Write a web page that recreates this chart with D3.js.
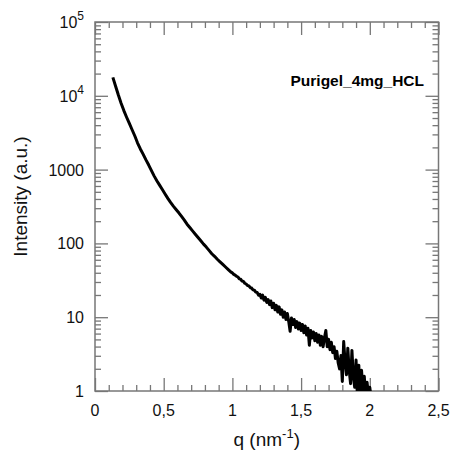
<!DOCTYPE html>
<html><head><meta charset="utf-8">
<script src="https://cdn.jsdelivr.net/npm/d3@7"></script>
<style>body{margin:0;background:#fff}svg{display:block}</style>
</head><body>
<script>
// q values (nm^-1) and log10 intensity
const qSmooth = [0.13,0.15,0.17,0.19,0.21,0.23,0.25,0.27,0.29,0.31,0.33,0.35,0.37,0.39,0.41,0.43,0.45,0.47,0.49,0.51,0.53,0.55,0.57,0.59,0.61,0.63,0.65,0.67,0.69,0.71,0.73,0.75,0.77,0.79,0.81,0.83,0.85,0.87,0.89,0.91,0.93,0.95,0.97,0.99];
const logSmooth = [4.25,4.13,4.01,3.90,3.80,3.71,3.625,3.54,3.455,3.36,3.28,3.21,3.135,3.065,2.99,2.915,2.85,2.79,2.73,2.67,2.61,2.555,2.505,2.46,2.415,2.365,2.315,2.26,2.215,2.17,2.125,2.08,2.035,1.99,1.95,1.905,1.86,1.825,1.785,1.75,1.715,1.68,1.645,1.61];
const qNoisy = [1.00,1.01,1.02,1.03,1.04,1.05,1.06,1.07,1.08,1.09,1.10,1.11,1.12,1.13,1.14,1.15,1.16,1.17,1.18,1.19,1.20,1.21,1.22,1.23,1.24,1.25,1.26,1.27,1.28,1.29,1.30,1.31,1.32,1.33,1.34,1.35,1.36,1.37,1.38,1.39,1.40,1.41,1.42,1.43,1.44,1.45,1.46,1.47,1.48,1.49,1.50,1.51,1.52,1.53,1.54,1.55,1.56,1.57,1.58,1.59,1.60,1.61,1.62,1.63,1.64,1.65,1.66,1.67,1.68,1.69,1.70,1.71,1.72,1.73,1.74,1.75,1.76,1.77,1.78,1.79,1.80,1.81,1.82,1.83,1.84,1.85,1.86,1.87,1.88,1.89,1.90,1.91,1.92,1.93,1.94,1.95,1.96,1.97,1.98,1.99,2.00,2.01];
const logNoisy = [1.60,1.58,1.57,1.555,1.545,1.52,1.515,1.49,1.485,1.46,1.45,1.43,1.425,1.40,1.395,1.37,1.365,1.34,1.335,1.30,
  1.31,1.26,1.30,1.23,1.27,1.20,1.24,1.17,1.22,1.13,1.19,1.10,1.16,1.07,1.14,1.04,1.10,1.00,1.07,0.97,1.05,0.94,0.81,0.99,0.90,0.97,0.86,0.94,0.84,0.92,0.82,0.90,0.79,0.88,0.76,0.85,0.62,0.82,0.72,0.80,0.68,0.78,0.66,0.76,0.62,0.74,0.60,0.72,0.82,0.60,0.70,0.56,0.66,0.52,0.60,0.44,0.54,0.38,
  0.30,0.48,0.13,0.67,0.40,0.22,0.58,0.28,0.10,0.55,0.20,0.05,0.42,-0.1,0.35,-0.1,0.28,0.0,0.20,-0.1,0.12,-0.05,0.05,-0.1];
const xTickValues = [0,0.5,1,1.5,2,2.5];
const xTickLabels = ["0","0,5","1","1,5","2","2,5"];
const yDecades = [1,10,100,1000,10000,100000];
const yTickLabels = ["1","10","100","1000","10^4","10^5"];
const xLabel = "q (nm";
const yLabel = "Intensity (a.u.)";
const sampleName = "Purigel_4mg_HCL";

const W = 452, H = 454;
const M = {left:95, right:438.5, top:22, bottom:391};
const frameColor = "#777";
const svg = d3.select("body").append("svg").attr("width",W).attr("height",H);

const x = d3.scaleLinear().domain([0,2.5]).range([M.left,M.right]);
const y = d3.scaleLog().domain([1,1e5]).range([M.bottom,M.top]);

const data = qSmooth.map((q,i)=>({q, v: Math.pow(10, logSmooth[i])}))
  .concat(qNoisy.map((q,i)=>({q, v: Math.pow(10, logNoisy[i])})));

svg.append("clipPath").attr("id","clip").append("rect")
  .attr("x",M.left).attr("y",M.top).attr("width",M.right-M.left).attr("height",M.bottom-M.top);

const xMinor = d3.range(0,2.5001,0.1).map(v=>+v.toFixed(2)).filter(v=>!xTickValues.some(t=>Math.abs(t-v)<1e-6));
const yMinor = [];
yDecades.slice(0,-1).forEach(d=>{for(let k=2;k<=9;k++) yMinor.push(d*k);});

const font = "'Liberation Sans', Arial, sans-serif";
function axisStyle(g){ g.select(".domain").remove(); g.selectAll("line").attr("stroke",frameColor).attr("stroke-width",1.3); g.selectAll("text").remove(); }

svg.append("g").attr("transform",`translate(0,${M.bottom})`).call(d3.axisBottom(x).tickValues(xTickValues).tickSizeInner(-13).tickSizeOuter(0)).call(axisStyle);
svg.append("g").attr("transform",`translate(0,${M.bottom})`).call(d3.axisBottom(x).tickValues(xMinor).tickSizeInner(-6).tickSizeOuter(0)).call(axisStyle);
svg.append("g").attr("transform",`translate(0,${M.top})`).call(d3.axisTop(x).tickValues(xTickValues).tickSizeInner(-13).tickSizeOuter(0)).call(axisStyle);
svg.append("g").attr("transform",`translate(0,${M.top})`).call(d3.axisTop(x).tickValues(xMinor).tickSizeInner(-6).tickSizeOuter(0)).call(axisStyle);
svg.append("g").attr("transform",`translate(${M.left},0)`).call(d3.axisLeft(y).tickValues(yDecades).tickSizeInner(-13).tickSizeOuter(0)).call(axisStyle);
svg.append("g").attr("transform",`translate(${M.left},0)`).call(d3.axisLeft(y).tickValues(yMinor).tickSizeInner(-6).tickSizeOuter(0)).call(axisStyle);
svg.append("g").attr("transform",`translate(${M.right},0)`).call(d3.axisRight(y).tickValues(yDecades).tickSizeInner(-13).tickSizeOuter(0)).call(axisStyle);
svg.append("g").attr("transform",`translate(${M.right},0)`).call(d3.axisRight(y).tickValues(yMinor).tickSizeInner(-6).tickSizeOuter(0)).call(axisStyle);

svg.append("rect").attr("x",M.left).attr("y",M.top).attr("width",M.right-M.left).attr("height",M.bottom-M.top)
  .attr("fill","none").attr("stroke",frameColor).attr("stroke-width",1.5);

svg.append("g").selectAll("text").data(xTickValues).join("text")
  .attr("x",d=>x(d)).attr("y",M.bottom+25).attr("text-anchor","middle")
  .attr("font-family",font).attr("font-size",16).attr("fill","#111")
  .text((d,i)=>xTickLabels[i]);

const yl = svg.append("g").selectAll("text").data(yDecades).join("text")
  .attr("x",M.left-11).attr("y",d=>y(d)+6).attr("text-anchor","end")
  .attr("font-family",font).attr("font-size",16).attr("fill","#111");
yl.each(function(d,i){
  const lab = yTickLabels[i];
  const t = d3.select(this);
  if(lab.includes("^")){
    const [b,e] = lab.split("^");
    t.append("tspan").text(b);
    t.append("tspan").attr("dy",-8).attr("font-size",12).text(e);
  } else t.text(lab);
});

const line = d3.line().x(d=>x(d.q)).y(d=>y(d.v));
svg.append("path").datum(data).attr("clip-path","url(#clip)")
  .attr("d",line).attr("fill","none").attr("stroke","#000").attr("stroke-width",3).attr("stroke-linejoin","round");

svg.append("text").attr("x",424).attr("y",86).attr("text-anchor","end")
  .attr("font-family",font).attr("font-weight","bold").attr("font-size",15.5).attr("fill","#000").text(sampleName);

const xt = svg.append("text").attr("x",(M.left+M.right)/2).attr("y",446).attr("text-anchor","middle")
  .attr("font-family",font).attr("font-size",19).attr("fill","#111");
xt.append("tspan").text(xLabel);
xt.append("tspan").attr("dy",-8).attr("font-size",13).text("-1");
xt.append("tspan").attr("dy",8).text(")");

svg.append("text").attr("transform",`translate(27,${(M.top+M.bottom)/2 - 10}) rotate(-90)`).attr("text-anchor","middle")
  .attr("font-family",font).attr("font-size",19).attr("fill","#111").text(yLabel);
</script>
</body></html>
